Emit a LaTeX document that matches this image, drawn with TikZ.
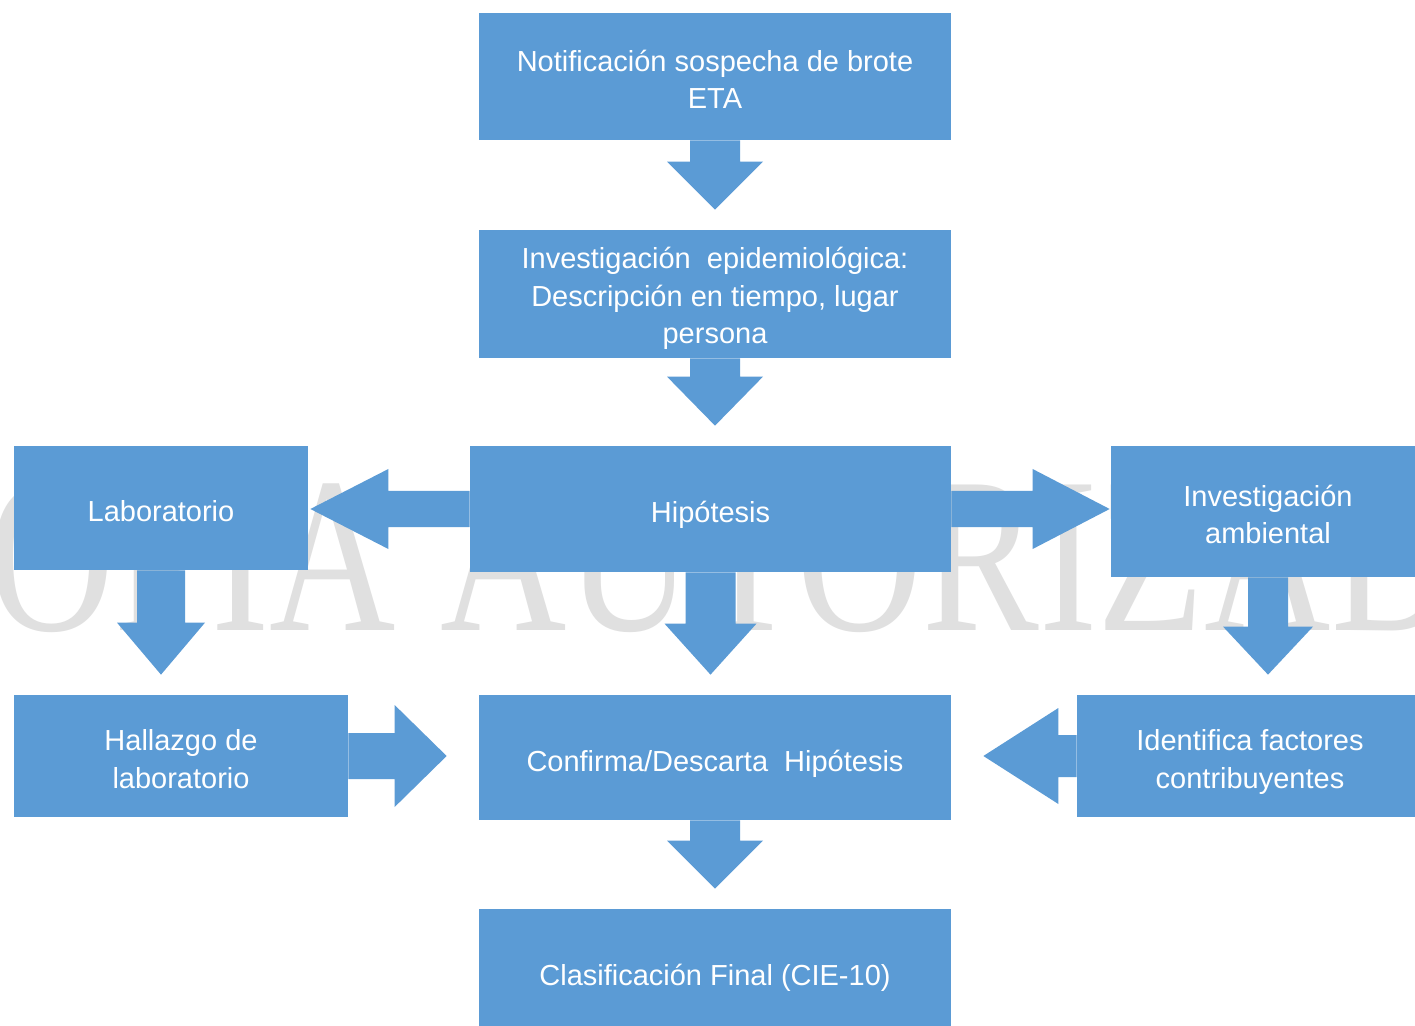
\documentclass[tikz,border=0pt]{standalone}
\usepackage{fontspec}
\setmainfont{Liberation Sans}
\newfontfamily\wmfont{Liberation Serif}
\usetikzlibrary{calc}

\definecolor{boxblue}{RGB}{91,155,213}
\definecolor{wmgray}{RGB}{224,224,224}

\tikzset{
  box/.style 2 args={shape=rectangle, fill=boxblue, text=white, inner sep=0pt, align=center,
    minimum width=#1*0.02cm, minimum height=#2*0.02cm,
    font=\fontsize{16.5}{21.3}\selectfont,
    text height=0.734cm, text depth=0.174cm},
  twolines/.style={text height=1.464cm},
  threelines/.style={text height=2.154cm},
  blockarrow/.style={fill=boxblue}
}

% block arrows: from, to, shaft half width, head half width, head length (, gap)
\newcommand{\arrdown}[5]{%
  \fill[blockarrow] ($(#1.south)+(-#3,0)$)
    -- ($(#1.south |- #2.north)+(-#3,-20-#5)$)
    -- ($(#1.south |- #2.north)+(-#4,-20-#5)$)
    -- ($(#1.south |- #2.north)+(0,-20)$)
    -- ($(#1.south |- #2.north)+(#4,-20-#5)$)
    -- ($(#1.south |- #2.north)+(#3,-20-#5)$)
    -- ($(#1.south)+(#3,0)$) -- cycle;}
\newcommand{\arrright}[6]{%
  \fill[blockarrow] ($(#1.east)+(0,-#3)$)
    -- ($(#2.west |- #1.east)+(-#6-#5,-#3)$)
    -- ($(#2.west |- #1.east)+(-#6-#5,-#4)$)
    -- ($(#2.west |- #1.east)+(-#6,0)$)
    -- ($(#2.west |- #1.east)+(-#6-#5,#4)$)
    -- ($(#2.west |- #1.east)+(-#6-#5,#3)$)
    -- ($(#1.east)+(0,#3)$) -- cycle;}
\newcommand{\arrleft}[6]{%
  \fill[blockarrow] ($(#1.west)+(0,-#3)$)
    -- ($(#2.east |- #1.west)+(#6+#5,-#3)$)
    -- ($(#2.east |- #1.west)+(#6+#5,-#4)$)
    -- ($(#2.east |- #1.west)+(#6,0)$)
    -- ($(#2.east |- #1.west)+(#6+#5,#4)$)
    -- ($(#2.east |- #1.west)+(#6+#5,#3)$)
    -- ($(#1.west)+(0,#3)$) -- cycle;}

\begin{document}
\begin{tikzpicture}[x=0.02cm, y=-0.02cm]
    \useasboundingbox (0,0) rectangle (1415,1026);
    \fill[white] (0,0) rectangle (1415,1026);
    \clip (0,0) rectangle (1415,1026);
    \node (marca) [anchor=base west, inner sep=0pt, text=wmgray] at (-129,630)
        {\scalebox{1}[1.27]{\wmfont\fontsize{99.6}{100}\selectfont COPIA AUTORIZADA}};

    \path (715,76.5) node (notif) [box={472}{127}, twolines] {Notificación sospecha de brote\\ETA}
        (715,294) node (epi) [box={472}{128}, threelines] {Investigación\ \ epidemiológica:\\Descripción en tiempo, lugar\\persona}
        (710.5,509) node (hipo) [box={481}{126}] {Hipótesis}
        (161,508) node (lab) [box={294}{124}] {Laboratorio}
        (1268,511.5) node (amb) [box={314}{131}, twolines] {Investigación\\ambiental}
        (181,756) node (hallazgo) [box={334}{122}, twolines] {Hallazgo de\\laboratorio}
        (715,757.5) node (confirma) [box={472}{125}] {Confirma/Descarta\ \ Hipótesis}
        (1250,756) node (factores) [box={346}{122}, twolines] {Identifica factores\\contribuyentes}
        (715,971) node (clasif) [box={472}{124}] {Clasificación Final (CIE-10)};

    \arrdown{notif}{epi}{25}{48}{48}
    \arrdown{epi}{hipo}{25}{48}{49}
    \arrdown{hipo}{confirma}{25}{46}{51}
    \arrdown{lab}{hallazgo}{24}{44}{52}
    \arrdown{amb}{factores}{20}{45}{48}
    \arrdown{confirma}{clasif}{25}{48}{48}
    \arrleft{hipo}{lab}{18}{40}{78}{2}
    \arrright{hipo}{amb}{18}{40}{77}{1}
    \arrright{hallazgo}{confirma}{23}{51}{52}{32}
    \arrleft{factores}{confirma}{21}{48}{75}{32}
\end{tikzpicture}
\end{document}
